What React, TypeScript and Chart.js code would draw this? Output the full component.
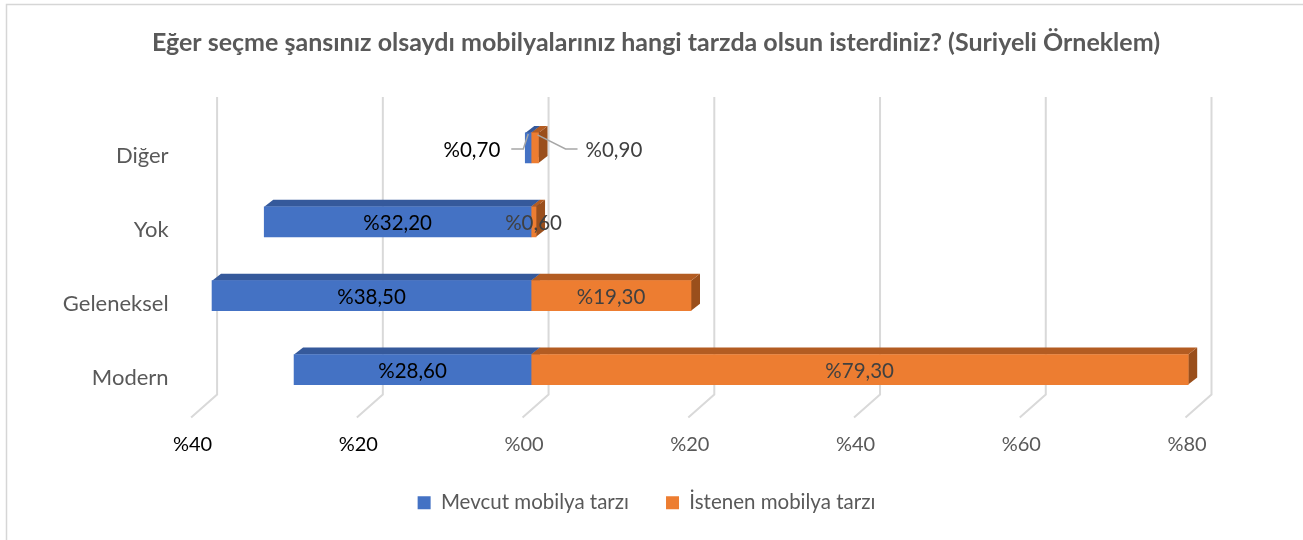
import React, { useEffect, useRef } from "react";
import { Chart, registerables } from "chart.js";

Chart.register(...registerables);

const chartTitle =
  "Eğer seçme şansınız olsaydı mobilyalarınız hangi tarzda olsun isterdiniz? (Suriyeli Örneklem)";
const categories = ["Diğer", "Yok", "Geleneksel", "Modern"];
const seriesNames = ["Mevcut mobilya tarzı", "İstenen mobilya tarzı"];
const mevcutValues = [0.7, 32.2, 38.5, 28.6];
const istenenValues = [0.9, 0.6, 19.3, 79.3];
const xMin = -40;
const xMax = 80;
const xStep = 20;
const calloutCategory = "Diğer";

const FONT = "Lato, 'Open Sans', sans-serif";
const BLUE = "#4472C4";
const ORANGE = "#ED7D31";
const TOP_COLORS = ["#35599b", "#b35c22"];
const SIDE_COLORS = ["#2c4a82", "#9a4f1c"];
const GRID = "#d9d9d9";
const DX = 9;
const DY = 7;
const LEGEND_SHIFT = 49.5;

const fmtValue = (v: number) => "%" + Math.abs(v).toFixed(2).replace(".", ",");
const fmtTick = (v: number) => "%" + String(Math.abs(v)).padStart(2, "0");

const framePlugin = {
  id: "frame",
  afterLayout(chart: any) {
    const lg = chart.legend;
    if (lg) {
      lg.left += LEGEND_SHIFT;
      lg.right += LEGEND_SHIFT;
    }
  },
  beforeDraw(chart: any) {
    const ctx = chart.ctx;
    ctx.save();
    ctx.strokeStyle = "#d6d6d6";
    ctx.lineWidth = 1.5;
    ctx.beginPath();
    ctx.moveTo(6.5, chart.height);
    ctx.lineTo(6.5, 4.5);
    ctx.lineTo(chart.width, 4.5);
    ctx.stroke();
    ctx.fillStyle = "#595959";
    ctx.font = `bold 25px ${FONT}`;
    ctx.textAlign = "center";
    ctx.textBaseline = "middle";
    ctx.fillText(chartTitle, 656, 43);
    ctx.restore();
  },
};

const threeDPlugin = {
  id: "threeD",
  beforeDatasetsDraw(chart: any) {
    const ctx = chart.ctx;
    const xs = chart.scales.x;
    const area = chart.chartArea;
    ctx.save();
    ctx.strokeStyle = GRID;
    ctx.lineWidth = 2;
    for (let v = xMin; v <= xMax; v += xStep) {
      const px = xs.getPixelForValue(v);
      const bx = px + 17.5;
      ctx.beginPath();
      ctx.moveTo(bx, area.top - 14);
      ctx.lineTo(bx, area.bottom - 12);
      ctx.lineTo(px - 8.5, area.bottom + 11);
      ctx.stroke();
    }
    chart.data.datasets.forEach((_ds: any, d: number) => {
      const meta = chart.getDatasetMeta(d);
      meta.data.forEach((bar: any) => {
        const { x, y, base, height } = bar.getProps(["x", "y", "base", "height"], true);
        const left = Math.min(x, base);
        const right = Math.max(x, base);
        const top = y - height / 2;
        const bottom = y + height / 2;
        ctx.fillStyle = SIDE_COLORS[d];
        ctx.beginPath();
        ctx.moveTo(right, top);
        ctx.lineTo(right + DX, top - DY);
        ctx.lineTo(right + DX, bottom - DY);
        ctx.lineTo(right, bottom);
        ctx.closePath();
        ctx.fill();
        ctx.fillStyle = TOP_COLORS[d];
        ctx.beginPath();
        ctx.moveTo(left, top);
        ctx.lineTo(left + DX, top - DY);
        ctx.lineTo(right + DX, top - DY);
        ctx.lineTo(right, top);
        ctx.closePath();
        ctx.fill();
      });
    });
    ctx.restore();
  },
};

const labelPlugin = {
  id: "valueLabels",
  afterDatasetsDraw(chart: any) {
    const ctx = chart.ctx;
    ctx.save();
    ctx.font = `20.5px ${FONT}`;
    ctx.textBaseline = "middle";
    chart.data.datasets.forEach((ds: any, d: number) => {
      const meta = chart.getDatasetMeta(d);
      const color = d === 0 ? "#000000" : "#404040";
      meta.data.forEach((bar: any, i: number) => {
        const { x, y, base, height } = bar.getProps(["x", "y", "base", "height"], true);
        const left = Math.min(x, base);
        const right = Math.max(x, base);
        const top = y - height / 2;
        const text = fmtValue(ds.data[i]);
        if (categories[i] === calloutCategory) {
          ctx.strokeStyle = "#a6a6a6";
          ctx.lineWidth = 1.5;
          ctx.beginPath();
          if (d === 0) {
            ctx.moveTo(left - 14, y + 1);
            ctx.lineTo(left - 2, y + 1);
            ctx.lineTo(left + 3, top + 1);
            ctx.stroke();
            ctx.fillStyle = color;
            ctx.textAlign = "right";
            ctx.fillText(text, left - 25, y + 2);
          } else {
            ctx.moveTo(right - 1, top + 2);
            ctx.lineTo(right + 27, y + 1);
            ctx.lineTo(right + 39, y + 1);
            ctx.stroke();
            ctx.fillStyle = color;
            ctx.textAlign = "left";
            ctx.fillText(text, right + 47, y + 2);
          }
        } else {
          ctx.fillStyle = color;
          ctx.textAlign = "center";
          ctx.fillText(text, (left + right) / 2, y + 2);
        }
      });
    });
    ctx.restore();
  },
};

export default function App() {
  const canvasRef = useRef<HTMLCanvasElement | null>(null);

  useEffect(() => {
    document.body.style.margin = "0";
    const canvas = canvasRef.current;
    if (!canvas) return;
    const chart = new Chart(canvas, {
      type: "bar",
      data: {
        labels: categories,
        datasets: [
          {
            label: seriesNames[0],
            data: mevcutValues.map((v) => -v),
            backgroundColor: BLUE,
            barThickness: 30,
          },
          {
            label: seriesNames[1],
            data: istenenValues,
            backgroundColor: ORANGE,
            barThickness: 30,
          },
        ],
      },
      options: {
        indexAxis: "y",
        responsive: false,
        animation: false,
        events: [],
        layout: { padding: { left: 0, right: 109, top: 111, bottom: 17 } },
        scales: {
          x: {
            type: "linear",
            stacked: true,
            min: xMin,
            max: xMax,
            grid: { display: false, drawTicks: false },
            border: { display: false },
            ticks: {
              stepSize: xStep,
              padding: 26,
              labelOffset: -7,
              font: { family: FONT, size: 20 },
              color: (c: any) => (c.tick && c.tick.value < 0 ? "#000000" : "#595959"),
              callback: (v: any) => fmtTick(Number(v)),
            },
            afterFit: (s: any) => {
              s.height = 49;
            },
          },
          y: {
            type: "category",
            stacked: true,
            grid: { display: false, drawTicks: false },
            border: { display: false },
            ticks: {
              padding: 31,
              labelOffset: 8,
              font: { family: FONT, size: 22 },
              color: "#595959",
            },
            afterFit: (s: any) => {
              s.width = 199.6;
            },
          },
        },
        plugins: {
          title: { display: false },
          tooltip: { enabled: false },
          legend: {
            position: "bottom",
            labels: {
              boxWidth: 13,
              boxHeight: 13,
              padding: 37,
              color: "#595959",
              font: { family: FONT, size: 20.5 },
            },
          },
        },
      },
      plugins: [framePlugin, threeDPlugin, labelPlugin],
    } as any);
    return () => chart.destroy();
  }, []);

  return <canvas ref={canvasRef} width={1303} height={540} style={{ display: "block" }} />;
}
